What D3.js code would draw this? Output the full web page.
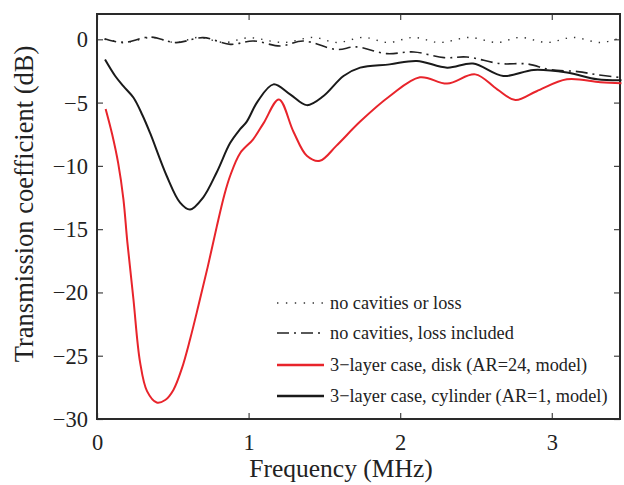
<!DOCTYPE html>
<html>
<head>
<meta charset="utf-8">
<script src="https://cdn.jsdelivr.net/npm/d3@7"></script>
<style>
  html, body { margin: 0; padding: 0; background: #fff; }
  svg { display: block; }
  text { font-family: "Liberation Serif", "Times New Roman", serif; fill: #222; }
</style>
</head>
<body>
<svg id="chart" width="624" height="485"></svg>
<script>
// ---- data (frequency in MHz, transmission in dB) ----
const xTicks = [0, 1, 2, 3];
const yTicks = [0, -5, -10, -15, -20, -25, -30];

const legendLabels = [
  "no cavities or loss",
  "no cavities, loss included",
  "3\u2212layer case, disk (AR=24, model)",
  "3\u2212layer case, cylinder (AR=1, model)"
];

const noCavFreq = [0.05, 0.2, 0.36, 0.52, 0.67, 0.84, 1.0, 1.23, 1.43, 1.58, 1.76, 1.92, 2.09, 2.26, 2.46, 2.64, 2.79, 2.97, 3.14, 3.32, 3.45];
const noCavVal  = [0.0, -0.22, 0.15, -0.25, 0.15, -0.25, 0.12, -0.25, 0.15, -0.25, 0.15, -0.25, 0.15, -0.25, 0.15, -0.25, 0.15, -0.25, 0.15, -0.25, 0.1];

const lossFreq = [0.05, 0.17, 0.35, 0.52, 0.70, 0.88, 1.03, 1.21, 1.36, 1.58, 1.71, 1.91, 2.09, 2.29, 2.44, 2.66, 2.84, 2.99, 3.17, 3.30, 3.46];
const lossVal  = [0.05, -0.26, 0.18, -0.26, 0.13, -0.40, -0.13, -0.53, -0.13, -0.80, -0.60, -1.13, -1.00, -1.45, -1.40, -1.92, -1.95, -2.40, -2.55, -2.80, -3.03];

const diskFreq = [0.057, 0.10, 0.14, 0.174, 0.20, 0.24, 0.284, 0.33, 0.394, 0.45, 0.504, 0.56, 0.614, 0.67, 0.73, 0.79, 0.84, 0.878, 0.944, 1.03, 1.10, 1.20, 1.296, 1.384, 1.47, 1.58, 1.736, 1.93, 2.13, 2.31, 2.495, 2.64, 2.76, 2.90, 3.10, 3.32, 3.46];
const diskVal  = [-5.5, -7.5, -9.8, -12.6, -16.0, -20.5, -25.5, -27.8, -28.7, -28.5, -27.7, -26.0, -23.7, -21.0, -18.0, -14.8, -12.3, -10.8, -9.0, -7.9, -6.6, -4.75, -7.3, -9.2, -9.6, -8.4, -6.5, -4.5, -3.0, -3.5, -2.77, -3.95, -4.8, -4.1, -3.16, -3.4, -3.48];

const cylFreq = [0.053, 0.12, 0.174, 0.24, 0.30, 0.35, 0.46, 0.548, 0.614, 0.70, 0.79, 0.878, 0.944, 0.988, 1.06, 1.164, 1.274, 1.384, 1.494, 1.626, 1.736, 1.93, 2.11, 2.31, 2.48, 2.68, 2.88, 3.10, 3.30, 3.46];
const cylVal  = [-1.6, -2.9, -3.7, -4.6, -6.0, -7.4, -10.8, -12.9, -13.45, -12.5, -10.5, -8.2, -7.1, -6.5, -4.9, -3.56, -4.35, -5.2, -4.48, -2.9, -2.24, -1.98, -1.71, -2.24, -1.92, -2.9, -2.42, -2.63, -3.16, -3.24];

// ---- layout ----
const svg = d3.select("#chart");
const L = 97, R = 620, T = 14, B = 419;
const x = d3.scaleLinear().domain([0, 3.45]).range([L, R]);
const y = d3.scaleLinear().domain([-30, 2]).range([B, T]);

const fmt = d => (d < 0 ? "\u2212" + Math.abs(d) : String(d));

// axes with inward ticks
const tickLen = 6;
const gx = svg.append("g").attr("transform", `translate(0,${B})`)
  .call(d3.axisBottom(x).tickValues(xTicks).tickSize(-tickLen).tickFormat(fmt));
const gxTop = svg.append("g").attr("transform", `translate(0,${T})`)
  .call(d3.axisTop(x).tickValues(xTicks).tickSize(-tickLen).tickFormat(""));
const gy = svg.append("g").attr("transform", `translate(${L},0)`)
  .call(d3.axisLeft(y).tickValues(yTicks).tickSize(-tickLen).tickFormat(fmt));
const gyR = svg.append("g").attr("transform", `translate(${R},0)`)
  .call(d3.axisRight(y).tickValues(yTicks).tickSize(-tickLen).tickFormat(""));

[gx, gxTop, gy, gyR].forEach(g => {
  g.select(".domain").remove();
  g.selectAll(".tick line").attr("stroke", "#444").attr("stroke-width", 1.2);
  g.selectAll(".tick text").attr("font-family", "Liberation Serif, serif").attr("font-size", 22.5).attr("fill", "#222");
});
gx.selectAll(".tick text").attr("dy", null).attr("y", 31);
gy.selectAll(".tick text").attr("x", -9).attr("dy", "0.33em");

// frame
svg.append("rect").attr("x", L).attr("y", T).attr("width", R - L).attr("height", B - T)
  .attr("fill", "none").attr("stroke", "#2a2a2a").attr("stroke-width", 2);

// lines
const line = d3.line().x(d => x(d[0])).y(d => y(d[1])).curve(d3.curveCatmullRom.alpha(0.5));
const zip = (a, b) => a.map((v, i) => [v, b[i]]);

const series = [
  { data: zip(noCavFreq, noCavVal), color: "#333", width: 1.4, dash: "1.4,7" },
  { data: zip(lossFreq, lossVal), color: "#222", width: 1.6, dash: "12,5,2,5" },
  { data: zip(diskFreq, diskVal), color: "#e8242b", width: 2, dash: null },
  { data: zip(cylFreq, cylVal), color: "#1a1a1a", width: 2, dash: null }
];

const plot = svg.append("g");
series.forEach(s => {
  plot.append("path").attr("d", line(s.data)).attr("fill", "none")
    .attr("stroke", s.color).attr("stroke-width", s.width)
    .attr("stroke-dasharray", s.dash);
});

// legend
const legY = [303, 333, 365, 396];
const lg = svg.append("g");
series.forEach((s, i) => {
  lg.append("line").attr("x1", 277).attr("x2", 324).attr("y1", legY[i]).attr("y2", legY[i])
    .attr("stroke", s.color).attr("stroke-width", s.width + (i >= 2 ? 0.5 : 0))
    .attr("stroke-dasharray", i === 0 ? "1.4,7.5" : s.dash);
  lg.append("text").attr("x", 330).attr("y", legY[i]).attr("dy", "0.33em")
    .attr("font-size", 18.3).text(legendLabels[i]);
});

// axis titles
svg.append("text").attr("x", 341).attr("y", 477).attr("text-anchor", "middle")
  .attr("font-size", 25.5).text("Frequency (MHz)");
svg.append("text").attr("transform", "translate(33,204) rotate(-90)").attr("text-anchor", "middle")
  .attr("font-size", 26.5).text("Transmission coefficient (dB)");
</script>
</body>
</html>
